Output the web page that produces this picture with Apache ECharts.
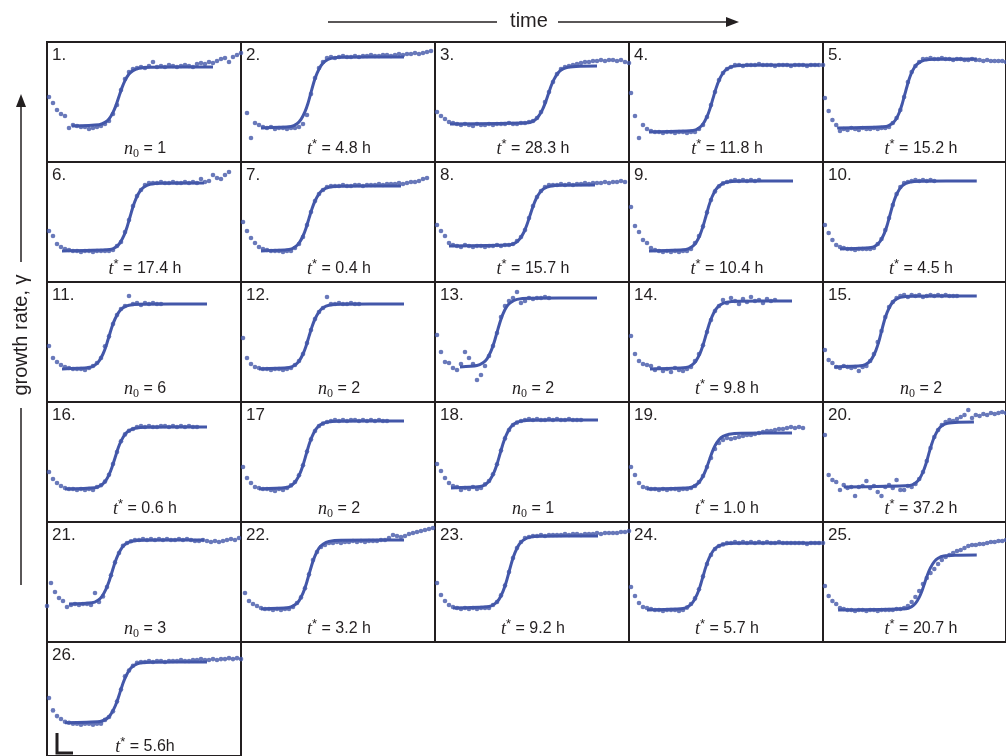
<!DOCTYPE html>
<html>
<head>
<meta charset="utf-8">
<script src="https://cdn.jsdelivr.net/npm/echarts/dist/echarts.min.js"></script>
<style>
  html, body { margin: 0; padding: 0; background: #ffffff; }
  #chart { width: 1006px; height: 756px; }
</style>
</head>
<body>
<div id="chart"></div>
<script>
// Growth-rate recoveries of 26 cultures: measured growth rate (dots) and the
// fitted lag curve (line). Time and growth rate are in arbitrary units.

const panelNames = ['1.', '2.', '3.', '4.', '5.', '6.', '7.', '8.', '9.', '10.',
  '11.', '12.', '13.', '14.', '15.', '16.', '17', '18.', '19.', '20.',
  '21.', '22.', '23.', '24.', '25.', '26.'];

// 'n' -> n0 = value, 't' -> t* = value
const noteKinds = ['n', 't', 't', 't', 't', 't', 't', 't', 't', 't',
  'n', 'n', 'n', 't', 'n', 't', 'n', 'n', 't', 't',
  'n', 't', 't', 't', 't', 't'];
const noteValues = ['1', '4.8 h', '28.3 h', '11.8 h', '15.2 h', '17.4 h', '0.4 h', '15.7 h', '10.4 h', '4.5 h',
  '6', '2', '2', '9.8 h', '2', '0.6 h', '2', '1', '1.0 h', '37.2 h',
  '3', '3.2 h', '9.2 h', '5.7 h', '20.7 h', '5.6h'];

// time of the first sample of each culture; samples are taken every STEP
const sampleStart = [1, 3, 1, 1, 1, 1, 1, 1, 1, 1,
  1, 1, 1, 1, 1, 1, 1, 1, 1, 1,
  0, 2, 1, 1, 1, 1];
const STEP = 2;

// measured growth rates
const growth01 = [32.5,29.5,26,24,23,17,18.5,18,17.5,17.5,16.5,17,17.5,18,19,20.5,24,28.5,36,41.5,45,46.5,47,47.5,47,48,50,47.5,48,47.5,48.5,48,47.5,48,48.5,48,47.5,49,49.5,49,50,49.5,50.5,51.5,52,50,52.5,53.5,54.5];
const growth02 = [24.5,12,19.5,18.5,17.5,17,17.5,16.5,17,17,16.5,17,17,17.5,19,23.5,34,42,47,50,52,52.5,52,52.5,53,52.5,52.5,53,52.5,53,53,53.5,53,53,53.5,53.5,53,53.5,54,53.5,54,54,54.5,54,54.5,55,55.5];
const growth03 = [25,23,21.5,20,19.5,19,18.5,19,18.5,18,19,18.5,18.5,19,18.5,19,19,19,19.5,19,19,19.5,19.5,20,20.5,22,25,30,35,40,44,46.5,47.5,48,48.5,49,49.5,50,50,50.5,50.5,51,50.5,51,51,50.5,51,50,49.5];
const growth04 = [34.5,23,12,18.5,16.5,15.5,15,15,14.5,15,15,14.5,15,15,14.5,15,15,16.5,18.5,22.5,28.5,35,41,44.5,46.5,47.5,48.5,48.5,48,48.5,48.5,48.5,49,48.5,48.5,48.5,48,48.5,48.5,48.5,48,48.5,48.5,48.5,48,48.5,48.5,48.5,48.5];
const growth05 = [32,25.5,21,18.5,15.5,16.5,16,17,16.5,16,17,16.5,16.5,17,16.5,17,17,17.5,19.5,22,26,32.5,40,45,48,50,51.5,51.5,52,51.5,51.5,52,51.5,51.5,51,51.5,51.5,51,51,51.5,51,51,50.5,51,50.5,50.5,50.5,50.5,50];
const growth06 = [25.5,23,19,17.5,16.5,16,15.5,15.5,15,15.5,15.5,15,15.5,15.5,15.5,15.5,16,18,20,25,31,38,43,46,48.5,49.5,49.5,49.5,50,49.5,49.5,50,49.5,49.5,50,49.5,50,49.5,51.5,50,50.5,53.5,52,51.5,53.5,55];
const growth07 = [30,25.5,22,19.5,17.5,16.5,16,15.5,15.5,15.5,15,15.5,15.5,17,19,22.5,28.5,35,40.5,44,46,47.5,48,48,48,48.5,48,48,48.5,48.5,48,48.5,48.5,48.5,49,48.5,49,49,49,49.5,49,49.5,50,50,50.5,51.5,52];
const growth08 = [28.5,25.5,23,19.5,18.5,18,17.5,18.5,18,17.5,18,18,17.5,18,18,18.5,18,18.5,18.5,19,20.5,22.5,26,32,38,42.5,45.5,47.5,48.5,48.5,48.5,49,48.5,49,48.5,49,49,49.5,49,49.5,49.5,49.5,50,49.5,50,50,50.5,50];
const growth09 = [37.5,28,25,21,19.5,17,16,15.5,15,15.5,15,15.5,15,15.5,15.5,16.5,19.5,23,27.8,34.8,41,45.3,47.9,49.3,50,50.5,51,50.5,51,50.5,51,50.5,51];
const growth10 = [28.5,24.5,21,18.5,17.5,17,16.5,16.5,16,16.5,16.5,16.5,16.5,17,19,21.5,26,32,38.5,44,47.5,49.5,50,50.5,51,50.5,51,50.5,51,50.5];
const growth11 = [28,22,20,18.5,17.5,17,16.5,16.5,16.5,16,17,18,19.5,22,27.9,32.8,39,43.5,46.5,48,53,49,49.5,48.5,49.5,49,49.5,49,49];
const growth12 = [32,22,19,17.5,17,16.5,16.5,16,16.5,16.5,16,16.5,17,18.5,20.5,24,29.5,36,41.5,45,47,52.5,49,49,49.5,49,49,49.5,49,49];
const growth13 = [33.5,25,20,19.5,17,16,19,25,22,19,11,13.5,18,23,28,34.5,42.5,48,50.5,52,55,49.5,50.5,52,51.5,52,52,52.5,52];
const growth14 = [33,24,20.5,19,18.5,18,16,17,15.5,16.5,15,17,16,15.5,16.5,17.5,20.5,24,28.4,35,41,45.5,48,51,49.5,52,50.5,49,51.5,50,52.5,50.5,51,49.5,51.5,50.5,51];
const growth15 = [26,21,19.5,17.5,17,18,17.5,17,17.5,15.5,17.5,18,20.5,24,30,35.5,42.5,47.5,50,52,53,53.5,52.5,53.5,53,53.5,52.5,53,53.5,53,53.5,53,53.5,53,53,53];
const growth16 = [25,21.5,19.5,18,17,16.5,16.5,16,16.5,16,16.5,16,17.5,18.4,20.2,23.6,29,35,40.4,43.8,45.6,46.5,47.5,48,47.5,48,47.5,47.5,48,48,47.5,48,47.5,48,47.5,48,47.5,47.5];
const growth17 = [27.5,22,19.5,17.5,17,16.5,16.5,16,15.5,16.5,16,17,18.3,20,23.4,28.4,35.2,41.3,45.5,48,49.2,50,50.5,51,50.5,51,50.5,51,51,50.5,51,50.5,51,50.5,51,50.5,50.5];
const growth18 = [29,25.5,22,19.5,18,17.5,16,17,16.5,17.5,16.5,17,18.8,20.5,23.9,28.9,35.7,41.8,46,48.5,49.7,50.5,51,51.5,51,51.5,51,51,51.5,51,51.5,51,51,51.5,51,51,51];
const growth19 = [27.5,23.5,19.5,17.5,17,16.5,16.5,16,16.5,16,16.5,16.5,16,16.5,16.5,17,18,20,23,27.5,32,36.5,39.5,41,42,41.5,42,42.5,43,43.5,43.5,44,44.5,45,45.5,45.5,46,46.5,46.5,47,47.5,47,47.5,47];
const growth20 = [43.5,23.5,21,20,16,18.5,17,17.5,13,17.5,18,20.5,17,18,15,13,17.5,18.5,17,21,16,16,18,17.5,19,21.5,25,30.5,37,42.5,46,48.5,50,51,50.5,51.5,52.5,53.5,56,52,53.5,53,54,53.5,54.5,54,54.5,55,54.5];
const growth21 = [18,29.5,25,22,20.5,17.5,18.5,19,18.5,19,19,18.5,24.5,20,22.8,27.5,33.4,39.8,44.5,48.1,49.5,50.4,51,51,51.5,51,51.5,51,51.5,51,51.5,51,51,51.5,51,51.5,51,50.5,50.5,51,50.5,50,50.5,50,50.5,51,51.5,51,52];
const growth22 = [24.5,20.5,19,18,17,16.5,16.5,16,16.5,16,16.5,16.5,17.5,19.5,22.3,26.9,33.8,41,45,47.5,48.5,49.5,49.5,50,49.5,50,50,50.5,50,50.5,50,50.5,50.5,50.5,51,51,52,53.5,53,52.5,53,54,54.5,55,55.5,56,56.5,57];
const growth23 = [29.5,23.5,20.5,18.5,17.5,17,16.5,17,16.5,17,16.5,17,17,17,18.5,20,23.3,28.2,35,42,47,50,52,52.5,53,53,53.5,53,53.5,53.5,53.5,53.5,54,53.5,54,54,53.5,54,54,54,54.5,54,54.5,54.5,54.5,54.5,55,55,55.5];
const growth24 = [27.5,23,19.5,17.5,17,16.5,16,16,15.5,16,16,16,15.5,16,17.2,19,21.8,26.4,32.8,39,43.5,46.5,48,48.8,49.5,49.5,50,49.5,50,49.5,50,49.5,50,49.5,50,49.5,49.5,50,49.5,49.5,49.5,49.5,49.5,49.5,49,49.5,49.5,49.5,49.5];
const growth25 = [28,23,20.5,19,17,16.5,16,16,15.5,16,16,15.5,16,16,15.5,16,16,16,16,16.5,16.5,17,18,20,22.5,25.5,29,32,34.5,36.5,39,41,42.5,43.5,44.5,45.5,46,47,48,48.5,48.5,49,49,49.5,50,50,50.5,50.5,51];
const growth26 = [30.5,24,21,19.5,18,17.5,17,17,16.5,17,17,16.5,17,17,19,20.5,23.5,28.7,35,42,45,47.5,49,49.5,49.5,50,49.5,50,50,49.5,50,50,50,50.5,50,50,50.5,50.5,51,50.5,50.5,51,50.5,51,51,51.5,51,51.5,51];

// fitted lag curves, [time, growth rate]
const fit01 = [[12.5,18],[26,18.6],[29,19.8],[31,21.5],[33,24.8],[34.5,28.3],[36,32.8],[37.5,37.2],[39,40.7],[41,44],[43,45.7],[46,46.9],[52,47.4],[83,47.5]];
const fit02 = [[10,17],[25,17.7],[28,19.1],[30,21.3],[32,25.2],[33.5,29.4],[35,34.8],[36.5,40.1],[38,44.3],[40,48.2],[42,50.4],[45,51.8],[51,52.4],[81.5,52.5]];
const fit03 = [[7.5,19],[46.5,19.6],[49.5,20.7],[51.5,22.5],[53.5,25.7],[55,29.2],[56.5,33.5],[58,37.9],[59.5,41.3],[61.5,44.5],[63.5,46.3],[66.5,47.4],[72.5,47.9],[81,48]];
const fit04 = [[10,15],[32,15.7],[35,17],[37,19],[39,22.7],[40.5,26.7],[42,31.8],[43.5,36.8],[45,40.8],[47,44.5],[49,46.5],[52,47.8],[58,48.4],[95,48.5]];
const fit05 = [[7.5,17],[33.5,17.7],[36.5,19.1],[38.5,21.1],[40.5,24.9],[42,29.1],[43.5,34.3],[45,39.4],[46.5,43.6],[48.5,47.4],[50.5,49.4],[53.5,50.8],[59.5,51.4],[81.5,51.5]];
const fit06 = [[7.5,15.5],[31.5,16.2],[34.5,17.5],[36.5,19.6],[38.5,23.3],[40,27.4],[41.5,32.5],[43,37.6],[44.5,41.7],[46.5,45.4],[48.5,47.5],[51.5,48.8],[57.5,49.4],[78.5,49.5]];
const fit07 = [[10,15.5],[24,16.2],[27,17.5],[29,19.4],[31,23],[32.5,26.9],[34,31.8],[35.5,36.6],[37,40.5],[39,44.1],[41,46.1],[44,47.4],[50,47.9],[80,48]];
const fit08 = [[7,18],[37.5,18.6],[40.5,19.8],[42.5,21.7],[44.5,25],[46,28.7],[47.5,33.3],[49,37.8],[50.5,41.5],[52.5,44.8],[54.5,46.7],[57.5,47.9],[63.5,48.4],[80,48.5]];
const fit09 = [[10,15.5],[28.5,16.2],[31.5,17.6],[33.5,19.7],[35.5,23.6],[37,27.8],[38.5,33],[40,38.3],[41.5,42.5],[43.5,46.3],[45.5,48.4],[48.5,49.8],[54.5,50.4],[82,50.5]];
const fit10 = [[9,16.5],[25.5,17.2],[28.5,18.5],[30.5,20.6],[32.5,24.3],[34,28.4],[35.5,33.5],[37,38.6],[38.5,42.7],[40.5,46.4],[42.5,48.5],[45.5,49.8],[51.5,50.4],[81.5,50.5]];
const fit11 = [[7.5,16.5],[21,17.2],[24,18.5],[26,20.4],[28,24],[29.5,27.9],[31,32.8],[32.5,37.6],[34,41.5],[36,45.1],[38,47.1],[41,48.4],[47,48.9],[80,49]];
const fit12 = [[9,16.5],[24,17.2],[27,18.5],[29,20.4],[31,24],[32.5,27.9],[34,32.8],[35.5,37.6],[37,41.5],[39,45.1],[41,47.1],[44,48.4],[50,48.9],[81.5,49]];
const fit13 = [[12.5,17.5],[21,18.2],[24,19.6],[26,21.6],[28,25.4],[29.5,29.6],[31,34.8],[32.5,39.9],[34,44.1],[36,47.9],[38,49.9],[41,51.3],[47,51.9],[81,52]];
const fit14 = [[10.5,16.5],[28.5,17.2],[31.5,18.5],[33.5,20.6],[35.5,24.3],[37,28.4],[38.5,33.5],[40,38.6],[41.5,42.7],[43.5,46.4],[45.5,48.5],[48.5,49.8],[54.5,50.4],[81.5,50.5]];
const fit15 = [[6,17.5],[21,18.2],[24,19.6],[26,21.8],[28,25.7],[29.5,29.9],[31,35.3],[32.5,40.6],[34,44.8],[36,48.7],[38,50.9],[41,52.3],[47,52.9],[81.5,53]];
const fit16 = [[9,16.5],[24,17.1],[27,18.4],[29,20.2],[31,23.6],[32.5,27.4],[34,32],[35.5,36.7],[37,40.4],[39,43.8],[41,45.6],[44,46.9],[50,47.4],[80,47.5]];
const fit17 = [[9,16.5],[22.5,17.2],[25.5,18.5],[27.5,20.6],[29.5,24.3],[31,28.4],[32.5,33.5],[34,38.6],[35.5,42.7],[37.5,46.4],[39.5,48.5],[42.5,49.8],[48.5,50.4],[81.5,50.5]];
const fit18 = [[8,17],[22.5,17.7],[25.5,19],[27.5,21.1],[29.5,24.8],[31,28.9],[32.5,34],[34,39.1],[35.5,43.2],[37.5,46.9],[39.5,49],[42.5,50.3],[48.5,50.9],[81.5,51]];
const fit19 = [[9,16.5],[30,17.1],[33,18.2],[35,19.9],[37,22.9],[38.5,26.3],[40,30.5],[41.5,34.7],[43,38.1],[45,41.1],[47,42.8],[50,43.9],[56,44.4],[81.5,44.5]];
const fit20 = [[11,17.5],[46,18.2],[49,19.5],[51,21.4],[53,25],[54.5,28.9],[56,33.8],[57.5,38.6],[59,42.5],[61,46.1],[63,48.1],[66,49.4],[72,49.9],[80,50]];
const fit21 = [[11,19],[22.5,19.6],[25.5,20.9],[27.5,22.8],[29.5,26.4],[31,30.2],[32.5,35],[34,39.8],[35.5,43.6],[37.5,47.2],[39.5,49.1],[42.5,50.4],[48.5,50.9],[78.5,51]];
const fit22 = [[10,16.5],[24,17.2],[27,18.6],[29,20.6],[31,24.4],[32.5,28.6],[34,33.8],[35.5,38.9],[37,43.1],[39,46.9],[41,48.9],[44,50.3],[50,50.9],[81.5,51]];
const fit23 = [[9,17],[27,17.7],[30,19.2],[32,21.3],[34,25.3],[35.5,29.6],[37,35],[38.5,40.4],[40,44.7],[42,48.7],[44,50.8],[47,52.3],[53,52.9],[81.5,53]];
const fit24 = [[9,16],[27,16.7],[30,18],[32,20],[34,23.7],[35.5,27.7],[37,32.8],[38.5,37.8],[40,41.8],[42,45.5],[44,47.5],[47,48.8],[53,49.4],[96,49.5]];
const fit25 = [[8,16],[44,16.6],[47,17.7],[49,19.3],[51,22.3],[52.5,25.6],[54,29.8],[55.5,33.9],[57,37.2],[59,40.2],[61,41.9],[64,43],[70,43.4],[81.5,43.5]];
const fit26 = [[9,17.5],[26.5,18.1],[29.5,19.4],[31.5,21.3],[33.5,24.9],[35,28.7],[36.5,33.5],[38,38.3],[39.5,42.1],[41.5,45.7],[43.5,47.6],[46.5,48.9],[52.5,49.4],[80,49.5]];

const growthSets = [growth01, growth02, growth03, growth04, growth05, growth06, growth07, growth08, growth09, growth10,
  growth11, growth12, growth13, growth14, growth15, growth16, growth17, growth18, growth19, growth20,
  growth21, growth22, growth23, growth24, growth25, growth26];
const fitSets = [fit01, fit02, fit03, fit04, fit05, fit06, fit07, fit08, fit09, fit10,
  fit11, fit12, fit13, fit14, fit15, fit16, fit17, fit18, fit19, fit20,
  fit21, fit22, fit23, fit24, fit25, fit26];

// ---- layout & style ----
const TIME_MAX = 97, RATE_MAX = 60;
const COLS = 5, CELL_W = 194, CELL_H = 120, LEFT = 47, TOP = 42;
const BLUE = '#4357a9';
const INK = '#231f20';
const SANS = '"Liberation Sans", Arial, Helvetica, sans-serif';
const SERIF = '"Liberation Serif", "Times New Roman", serif';

const grids = [], xAxes = [], yAxes = [], series = [], graphics = [];

panelNames.forEach((name, i) => {
  const col = i % COLS, row = Math.floor(i / COLS);
  const x0 = LEFT + col * CELL_W, y0 = TOP + row * CELL_H;
  grids.push({
    left: x0, top: y0, width: CELL_W, height: CELL_H,
    show: true, borderColor: INK, borderWidth: 2, backgroundColor: 'transparent'
  });
  xAxes.push({ type: 'value', gridIndex: i, min: 0, max: TIME_MAX, show: false });
  yAxes.push({ type: 'value', gridIndex: i, min: 0, max: RATE_MAX, show: false });

  series.push({
    type: 'line', xAxisIndex: i, yAxisIndex: i, data: fitSets[i],
    showSymbol: false, smooth: 0.25, silent: true, z: 2,
    lineStyle: { color: BLUE, width: 3 }
  });
  series.push({
    type: 'scatter', xAxisIndex: i, yAxisIndex: i, silent: true, z: 3,
    data: growthSets[i].map((v, k) => [sampleStart[i] + k * STEP, v]),
    symbol: 'circle', symbolSize: 4.6, itemStyle: { color: BLUE }
  });

  // panel number
  graphics.push({
    type: 'text', z: 10,
    style: { text: name, x: x0 + 5, y: y0 + 13, verticalAlign: 'middle', align: 'left',
      font: '17px ' + SANS, fill: INK }
  });

  // fitted parameter
  const kind = noteKinds[i], val = noteValues[i];
  const txt = kind === 'n' ? '{it|n}{sub|0}{rm| = ' + val + '}' : '{it|t}{sup|*}{rm| = ' + val + '}';
  graphics.push({
    type: 'text', z: 10,
    style: {
      text: txt, x: x0 + 98, y: y0 + (i === 25 ? 105 : 107), align: 'center', verticalAlign: 'middle',
      rich: {
        it: { fontFamily: SERIF, fontStyle: 'italic', fontSize: 18, lineHeight: 22, fill: INK },
        sub: { fontFamily: SERIF, fontSize: 12, lineHeight: 12, verticalAlign: 'bottom', fill: INK },
        sup: { fontFamily: SANS, fontSize: 13, lineHeight: 13, verticalAlign: 'top', fill: INK },
        rm: { fontFamily: SANS, fontSize: 16, lineHeight: 22, fill: INK }
      }
    }
  });
});

// time arrow across the top
graphics.push(
  { type: 'line', shape: { x1: 328, y1: 22, x2: 497, y2: 22 }, style: { stroke: INK, lineWidth: 1.5 } },
  { type: 'line', shape: { x1: 558, y1: 22, x2: 728, y2: 22 }, style: { stroke: INK, lineWidth: 1.5 } },
  { type: 'polygon', shape: { points: [[739, 22], [726, 17], [726, 27]] }, style: { fill: INK } },
  { type: 'text', style: { text: 'time', x: 529, y: 21, align: 'center', verticalAlign: 'middle',
      font: '20px ' + SANS, fill: INK } }
);

// growth-rate arrow along the left side
graphics.push(
  { type: 'line', shape: { x1: 21, y1: 104, x2: 21, y2: 262 }, style: { stroke: INK, lineWidth: 1.5 } },
  { type: 'line', shape: { x1: 21, y1: 408, x2: 21, y2: 585 }, style: { stroke: INK, lineWidth: 1.5 } },
  { type: 'polygon', shape: { points: [[21, 94], [16, 107], [26, 107]] }, style: { fill: INK } },
  { type: 'text', x: 21, y: 335, rotation: Math.PI / 2,
    style: { text: 'growth rate, \u03b3', x: 0, y: 0, align: 'center', verticalAlign: 'middle',
      font: '20px ' + SANS, fill: INK } }
);

// scale bar in the last panel
graphics.push({
  type: 'polyline', shape: { points: [[57, 733], [57, 753], [73, 753]] },
  style: { stroke: INK, lineWidth: 3, fill: null }
});

const chart = echarts.init(document.getElementById('chart'), null, { renderer: 'canvas' });
chart.setOption({
  animation: false,
  backgroundColor: '#ffffff',
  grid: grids,
  xAxis: xAxes,
  yAxis: yAxes,
  series: series,
  graphic: { elements: graphics }
});
</script>
</body>
</html>
